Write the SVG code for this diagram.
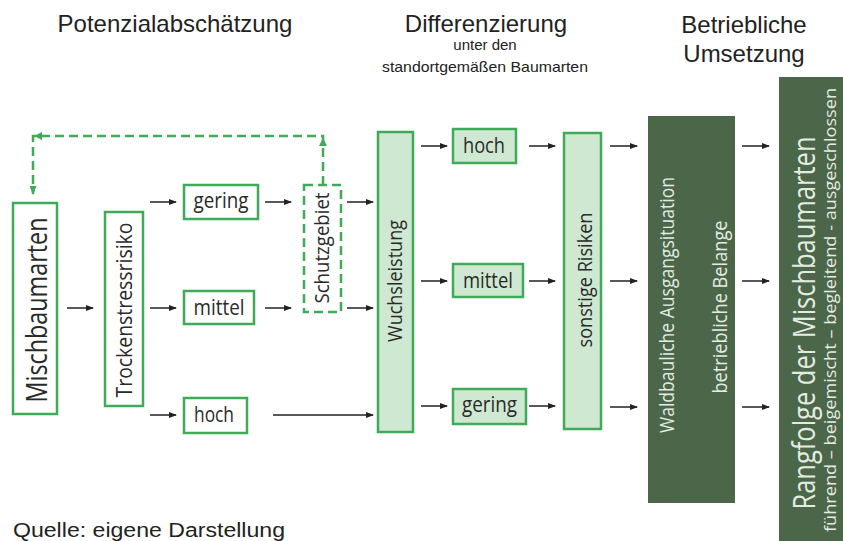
<svg xmlns="http://www.w3.org/2000/svg" width="843" height="541" viewBox="0 0 843 541">
<style>
.hd{font-family:"Liberation Sans",Arial,sans-serif;fill:#222;text-anchor:middle}
.lb{font-family:"Open Sans",Lato,sans-serif;fill:#2a2a2a;text-anchor:middle}
.lw{font-family:"Open Sans",Lato,sans-serif;fill:#e4ece2;text-anchor:middle}
.bx{fill:#fff;stroke:#3fab59;stroke-width:2.5}
.bf{fill:#cfe8d1;stroke:#3fab59;stroke-width:2.5}
.bd{fill:#4b6649}
.ar{stroke:#222;stroke-width:1.5;fill:none;marker-end:url(#ah)}
.ds{stroke:#3fab59;stroke-width:2.5;fill:none;stroke-dasharray:9 5}
</style>
<defs>
<marker id="ah" markerWidth="8" markerHeight="8" refX="7" refY="4" orient="auto" markerUnits="userSpaceOnUse">
<path d="M0,1 L8,4 L0,7 Z" fill="#222"/>
</marker>
<marker id="gh" markerWidth="9" markerHeight="9" refX="8" refY="4.5" orient="auto" markerUnits="userSpaceOnUse">
<path d="M0,1 L9,4.5 L0,8 Z" fill="#3fab59"/>
</marker>
</defs>
<rect width="843" height="541" fill="#fff"/>

<g id="headers">
<text class="hd" x="175" y="32" font-size="24">Potenzialabschätzung</text>
<text class="hd" x="486" y="32" font-size="24">Differenzierung</text>
<text class="hd" x="485" y="50" font-size="15">unter den</text>
<text class="hd" x="485" y="72" font-size="15" textLength="206" lengthAdjust="spacingAndGlyphs">standortgemäßen Baumarten</text>
<text class="hd" x="744" y="33" font-size="24">Betriebliche</text>
<text class="hd" x="744" y="62" font-size="24">Umsetzung</text>
</g>

<g id="connectors">
<line class="ar" x1="67" y1="308" x2="93" y2="308"/>
<line class="ar" x1="150" y1="202" x2="176" y2="202"/>
<line class="ar" x1="150" y1="308" x2="176" y2="308"/>
<line class="ar" x1="150" y1="415" x2="176" y2="415"/>
<line class="ar" x1="265" y1="202" x2="291" y2="202"/>
<line class="ar" x1="265" y1="308" x2="291" y2="308"/>
<line class="ar" x1="347" y1="202" x2="373" y2="202"/>
<line class="ar" x1="347" y1="308" x2="373" y2="308"/>
<line class="ar" x1="273" y1="415" x2="373" y2="415"/>
<line class="ar" x1="421" y1="146" x2="447" y2="146"/>
<line class="ar" x1="421" y1="281" x2="447" y2="281"/>
<line class="ar" x1="421" y1="406" x2="447" y2="406"/>
<line class="ar" x1="529" y1="146" x2="555" y2="146"/>
<line class="ar" x1="529" y1="281" x2="555" y2="281"/>
<line class="ar" x1="529" y1="406" x2="555" y2="406"/>
<line class="ar" x1="610" y1="146" x2="637" y2="146"/>
<line class="ar" x1="610" y1="281" x2="637" y2="281"/>
<line class="ar" x1="610" y1="407" x2="637" y2="407"/>
<line class="ar" x1="742" y1="146" x2="769" y2="146"/>
<line class="ar" x1="742" y1="281" x2="769" y2="281"/>
<line class="ar" x1="742" y1="407" x2="769" y2="407"/>
<path class="ds" d="M323,185 V136 H33 V194" marker-end="url(#gh)"/>
<path d="M323,138 L319,146 L327,146 Z" fill="#3fab59"/>
<path d="M34,136 L42,132 L42,140 Z" fill="#3fab59"/>
</g>

<g id="mischbaumarten">
<rect class="bx" x="13" y="203" width="44" height="211"/>
<text class="lb" transform="translate(47,310) rotate(-90)" font-size="29" textLength="185" lengthAdjust="spacingAndGlyphs">Mischbaumarten</text>
</g>
<g id="trockenstressrisiko">
<rect class="bx" x="105" y="212" width="38" height="194"/>
<text class="lb" transform="translate(132,310) rotate(-90)" font-size="21" textLength="175" lengthAdjust="spacingAndGlyphs">Trockenstressrisiko</text>
</g>
<g id="gering1">
<rect class="bx" x="184" y="185" width="74" height="34"/>
<text class="lb" x="221" y="208" font-size="21" textLength="55" lengthAdjust="spacingAndGlyphs">gering</text>
</g>
<g id="mittel1">
<rect class="bx" x="184" y="291" width="70" height="33"/>
<text class="lb" x="219" y="315" font-size="21" textLength="51" lengthAdjust="spacingAndGlyphs">mittel</text>
</g>
<g id="hoch1">
<rect class="bx" x="184" y="398" width="63" height="35"/>
<text class="lb" x="214" y="422" font-size="21" textLength="40" lengthAdjust="spacingAndGlyphs">hoch</text>
</g>
<g id="schutzgebiet">
<rect class="bx" x="304" y="185" width="37" height="127" stroke-dasharray="9 5"/>
<text class="lb" transform="translate(329,248) rotate(-90)" font-size="20" textLength="111" lengthAdjust="spacingAndGlyphs">Schutzgebiet</text>
</g>
<g id="wuchsleistung">
<rect class="bf" x="378" y="132" width="35" height="300"/>
<text class="lb" transform="translate(402,281) rotate(-90)" font-size="20" textLength="122" lengthAdjust="spacingAndGlyphs">Wuchsleistung</text>
</g>
<g id="hoch2">
<rect class="bf" x="453" y="129" width="63" height="34"/>
<text class="lb" x="484" y="153" font-size="21" textLength="42" lengthAdjust="spacingAndGlyphs">hoch</text>
</g>
<g id="mittel2">
<rect class="bf" x="453" y="264" width="70" height="33"/>
<text class="lb" x="488" y="288" font-size="21" textLength="50" lengthAdjust="spacingAndGlyphs">mittel</text>
</g>
<g id="gering2">
<rect class="bf" x="453" y="389" width="73" height="35"/>
<text class="lb" x="489.5" y="412" font-size="21" textLength="55" lengthAdjust="spacingAndGlyphs">gering</text>
</g>
<g id="sonstige">
<rect class="bf" x="564" y="133" width="37" height="296"/>
<text class="lb" transform="translate(592,280) rotate(-90)" font-size="20" textLength="135" lengthAdjust="spacingAndGlyphs">sonstige Risiken</text>
</g>
<g id="waldbauliche">
<rect class="bd" x="648" y="116" width="87" height="387"/>
<text class="lw" transform="translate(674,305) rotate(-90)" font-size="20" textLength="256" lengthAdjust="spacingAndGlyphs">Waldbauliche Ausgangsituation</text>
<text class="lw" transform="translate(727,307) rotate(-90)" font-size="20" textLength="173" lengthAdjust="spacingAndGlyphs">betriebliche Belange</text>
</g>
<g id="rangfolge">
<rect class="bd" x="779" y="77" width="64" height="464"/>
<text class="lw" transform="translate(815,323) rotate(-90)" font-size="31" textLength="373" lengthAdjust="spacingAndGlyphs">Rangfolge der Mischbaumarten</text>
<text class="lw" transform="translate(836,310) rotate(-90)" font-size="16" textLength="444" lengthAdjust="spacingAndGlyphs">führend – beigemischt – begleitend - ausgeschlossen</text>
</g>

<g id="source">
<text x="13" y="537" font-family="Liberation Sans, Arial, sans-serif" font-size="20" fill="#222" textLength="272" lengthAdjust="spacingAndGlyphs">Quelle: eigene Darstellung</text>
</g>
</svg>
